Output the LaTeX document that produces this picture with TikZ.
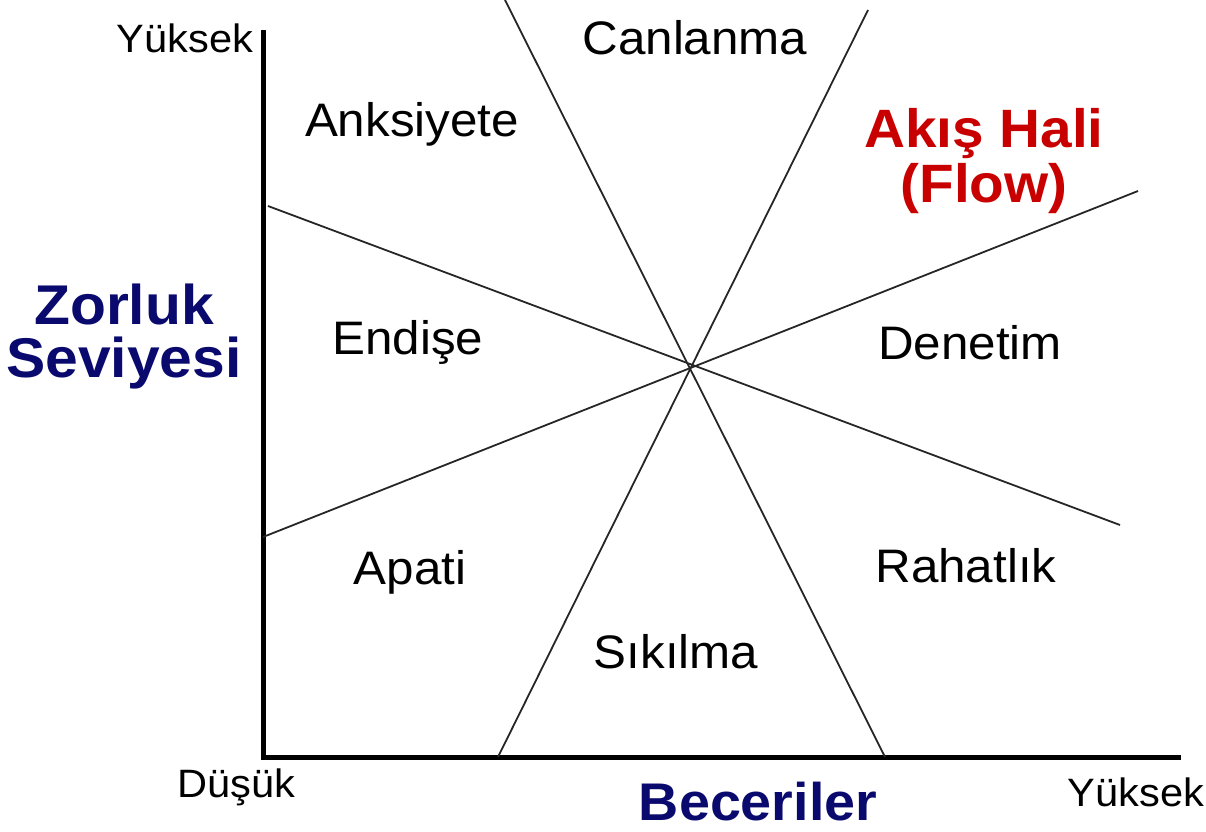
\documentclass[tikz,border=0pt]{standalone}
\usepackage{fontspec}
\setmainfont[FakeStretch=1.05]{Liberation Sans}
\definecolor{navy}{RGB}{10,10,110}
\definecolor{flowred}{RGB}{200,0,0}
\begin{document}
\begin{tikzpicture}[x=0.5pt,y=-0.5pt,
  small/.style={font=\fontsize{19.8}{22}\selectfont, text=black, inner sep=0pt},
  region/.style={font=\fontsize{23.5}{26}\selectfont, text=black, inner sep=0pt},
  axistitle/.style={font=\fontsize{28}{26.5}\selectfont\bfseries, text=navy, inner sep=0pt, align=center},
  flowlbl/.style={font=\fontsize{27}{27.5}\selectfont\bfseries, text=flowred, inner sep=0pt, align=center},
  axis/.style={line width=2.5pt, black},
  divider/.style={line width=0.9pt, black!85}]
\useasboundingbox (0,0) rectangle (1206,831);
% axes
\coordinate (ytop) at (263,30);
\coordinate (origin) at (263,757);
\coordinate (xend) at (1181,757);
\draw[axis] (ytop) -- (origin) -- (xend);
% dividing lines
\coordinate (a1) at (268,206);  \coordinate (a2) at (1120,525);
\coordinate (b1) at (263,537);  \coordinate (b2) at (1138,191);
\coordinate (c1) at (505,0);    \coordinate (c2) at (885,757);
\coordinate (d1) at (868,10);   \coordinate (d2) at (498,757);
\draw[divider] (a1) -- (a2);
\draw[divider] (b1) -- (b2);
\draw[divider] (c1) -- (c2);
\draw[divider] (d1) -- (d2);
% axis labels
\node[small] (yhigh) at (185,38) {Yüksek};
\node[small] (low) at (236,787) {Düşük};
\node[small] (xhigh) at (1136,792) {Yüksek};
\node[axistitle] (zorluk) at (124,337) {Zorluk\\Seviyesi};
\node[axistitle, font=\fontsize{26.5}{26}\selectfont\bfseries, anchor=base] (beceri) at (758,820) {Beceriler};
% regions
\node[region] (canlanma) at (695,38) {Canlanma};
\node[region] (anksiyete) at (412,124) {Anksiyete};
\node[flowlbl] (flow) at (984,161) {Akış Hali\\(Flow)};
\node[region] (endise) at (408,342) {Endişe};
\node[region] (denetim) at (970,343) {Denetim};
\node[region] (apati) at (410,572) {Apati};
\node[region] (rahatlik) at (966,566) {Rahatlık};
\node[region] (sikilma) at (676,652) {Sıkılma};
\end{tikzpicture}
\end{document}
